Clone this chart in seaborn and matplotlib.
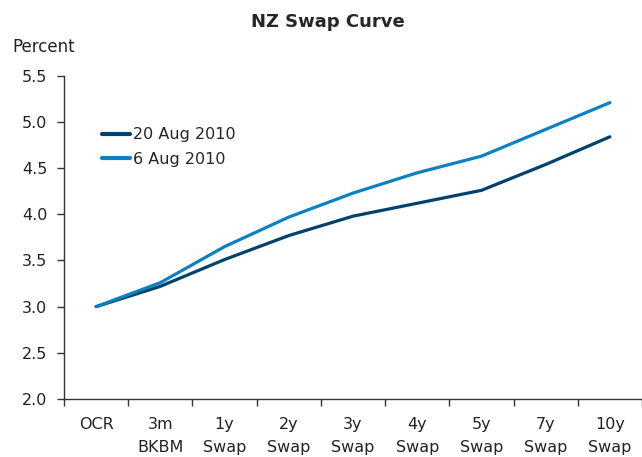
import matplotlib
matplotlib.use("Agg")
import matplotlib.pyplot as plt
import seaborn as sns
import pandas as pd
from matplotlib.ticker import FixedLocator

# ==============================
# DATA
# ==============================
tenors = ["OCR", "3m\nBKBM", "1y\nSwap", "2y\nSwap", "3y\nSwap",
          "4y\nSwap", "5y\nSwap", "7y\nSwap", "10y\nSwap"]
aug20 = [3.00, 3.22, 3.51, 3.77, 3.98, 4.12, 4.26, 4.54, 4.84]
aug06 = [3.00, 3.26, 3.65, 3.97, 4.23, 4.45, 4.63, 4.92, 5.21]
series = ["20 Aug 2010", "6 Aug 2010"]
colors = ["#00426B", "#0B80C3"]

df = pd.DataFrame({
    "pos": list(range(len(tenors))) * 2,
    "value": aug20 + aug06,
    "date": [series[0]] * len(tenors) + [series[1]] * len(tenors),
})

# ==============================
# PLOT
# ==============================
sns.set_style("white")
plt.rcParams["font.family"] = ["DejaVu Sans"]
fs = 11.5

fig = plt.figure(figsize=(6.42, 4.57), dpi=100)
ax = fig.add_axes([0.0997, 0.127, 0.9003, 0.707])

sns.lineplot(data=df, x="pos", y="value", hue="date", hue_order=series,
             palette=colors, linewidth=2.3, ax=ax)

ax.set_xlim(-0.5, len(tenors) - 0.5)
ax.set_ylim(2.0, 5.5)
ax.set_yticks([2.0, 2.5, 3.0, 3.5, 4.0, 4.5, 5.0, 5.5])
ax.set_yticklabels([f"{v:.1f}" for v in ax.get_yticks()], fontsize=fs, color="#222222")
ax.set_xticks(range(len(tenors)))
ax.set_xticklabels(tenors, fontsize=fs, color="#222222", linespacing=1.7)
ax.xaxis.set_minor_locator(FixedLocator([i - 0.5 for i in range(len(tenors) + 1)]))
ax.tick_params(axis="x", which="major", length=0, pad=13)
ax.tick_params(axis="x", which="minor", length=5, width=1, color="#333333", direction="out", bottom=True)
ax.tick_params(axis="y", length=5, width=1, color="#333333", direction="out", left=True, pad=7)
ax.set_xlabel("")
ax.set_ylabel("")

for side in ["top", "right"]:
    ax.spines[side].set_visible(False)
for side in ["left", "bottom"]:
    ax.spines[side].set_color("#333333")
    ax.spines[side].set_linewidth(1)

leg = ax.legend(loc="upper left", bbox_to_anchor=(0.04, 0.885), frameon=False,
                fontsize=fs, handlelength=1.8, handletextpad=0.2, labelspacing=0.6)
for line in leg.get_lines():
    line.set_linewidth(3)

fig.text(0.51, 1 - 22 / 457, "NZ Swap Curve", ha="center", va="center",
         fontsize=13, fontweight="bold")
fig.text(12 / 642, 1 - 47 / 457, "Percent", ha="left", va="center", fontsize=12, color="#222222")

fig.savefig("out.png", dpi=100)
plt.close(fig)
